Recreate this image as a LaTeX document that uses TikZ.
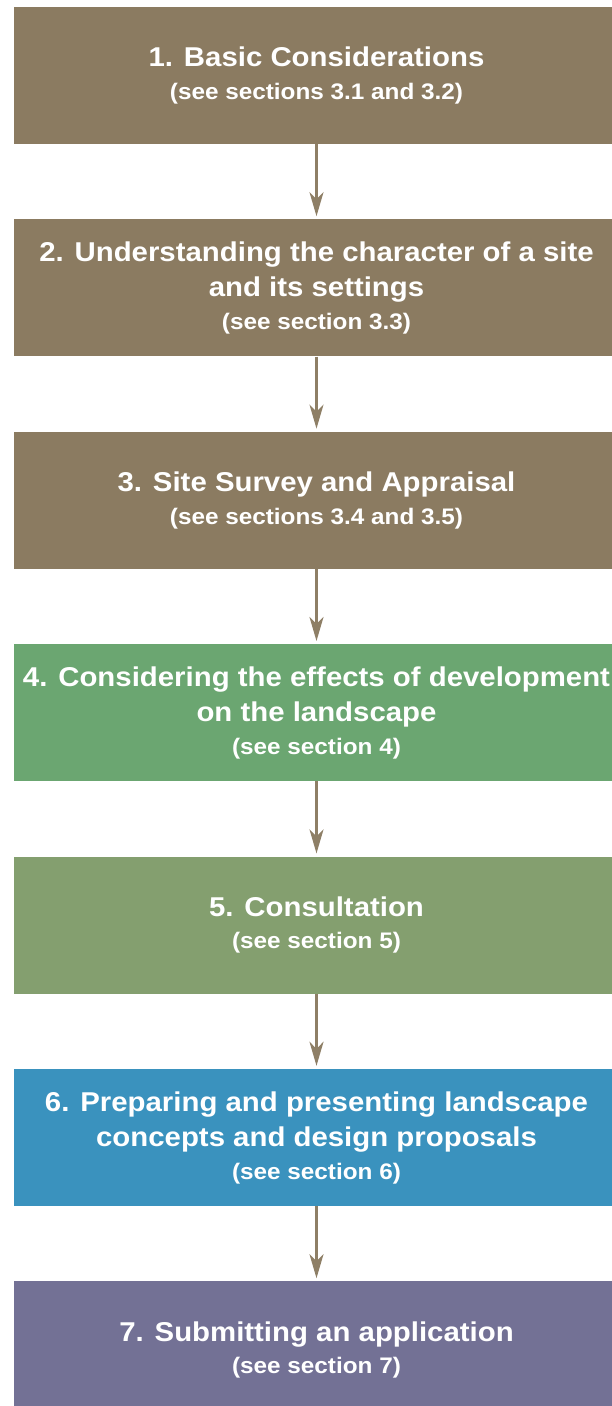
\documentclass[tikz,border=0pt]{standalone}
\usepackage{fontspec}
\setmainfont{Liberation Sans}[FakeStretch=1.08]
\usepackage{tikz}
\usetikzlibrary{arrows.meta, positioning}
\definecolor{earth}{RGB}{139,123,97}
\definecolor{leaf}{RGB}{107,166,113}
\definecolor{sage}{RGB}{132,159,111}
\definecolor{water}{RGB}{58,146,190}
\definecolor{dusk}{RGB}{115,113,149}
\definecolor{linkbrown}{RGB}{142,127,102}
\tikzstyle{stage} = [rectangle, minimum width=605pt, minimum height=137pt, inner sep=0pt, text=white, align=center, font=\fontsize{27.2}{35.5}\selectfont\bfseries]
\tikzstyle{arrow} = [line width=2.5pt, draw=linkbrown, -{Stealth[length=24pt,width=14pt,inset=7pt,fill=linkbrown]}, shorten >=3pt]
\newcommand{\seesec}[1]{{\fontsize{22.5}{35.5}\selectfont #1}}

\begin{document}
\begin{tikzpicture}[node distance=75pt]
	\useasboundingbox (0,0) rectangle (612pt,-1406pt);
	\node (basic) [stage, fill=earth] at (316.5pt,-75.5pt) {1. Basic Considerations \\[-3pt] \seesec{(see sections 3.1 and 3.2)}};
	\node (character) [stage, fill=earth, below=of basic] {2. Understanding the character of a site \\ and its settings \\[-3pt] \seesec{(see section 3.3)}};
	\node (survey) [stage, fill=earth, below=of character] {3. Site Survey and Appraisal \\[-3pt] \seesec{(see sections 3.4 and 3.5)}};
	\node (effects) [stage, fill=leaf, below=of survey] {4. Considering the effects of development \\ on the landscape \\[-3pt] \seesec{(see section 4)}};
	\node (consult) [stage, fill=sage, below=of effects] {5. Consultation \\[-3pt] \seesec{(see section 5)}};
	\node (proposals) [stage, fill=water, below=of consult] {6. Preparing and presenting landscape \\ concepts and design proposals \\[-3pt] \seesec{(see section 6)}};
	\node (submit) [stage, fill=dusk, below=of proposals] {7. Submitting an application \\[-3pt] \seesec{(see section 7)}};

	\draw [arrow] (basic) -- (character);
	\draw [arrow] (character) -- (survey);
	\draw [arrow] (survey) -- (effects);
	\draw [arrow] (effects) -- (consult);
	\draw [arrow] (consult) -- (proposals);
	\draw [arrow] (proposals) -- (submit);
\end{tikzpicture}
\end{document}
